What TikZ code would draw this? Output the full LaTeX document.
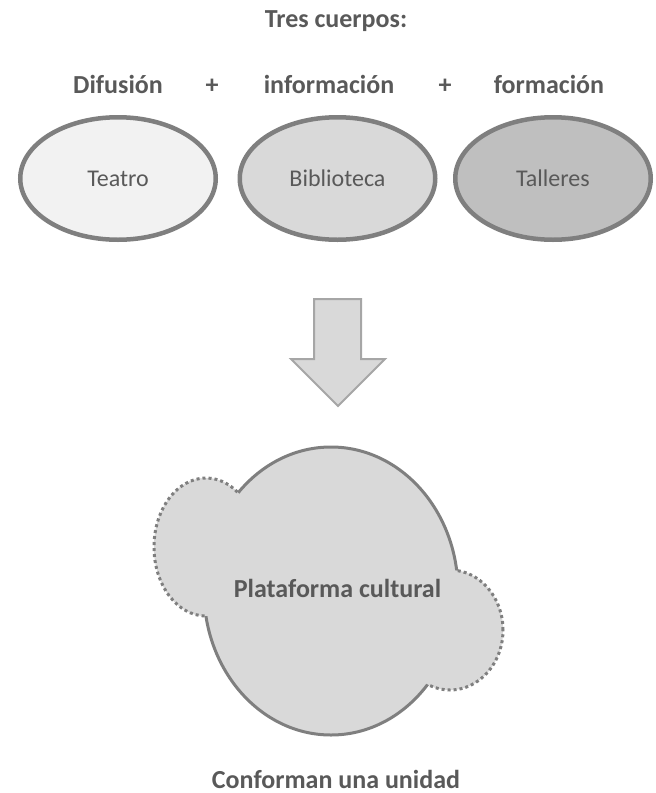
\documentclass[tikz,border=0pt]{standalone}
\usepackage{fontspec}
\setmainfont{Carlito}
\usetikzlibrary{shapes.geometric}
\definecolor{txt}{HTML}{595959}
\definecolor{edge}{HTML}{7F7F7F}
\definecolor{fillA}{HTML}{F2F2F2}
\definecolor{fillB}{HTML}{D9D9D9}
\definecolor{fillC}{HTML}{BFBFBF}
\definecolor{arrowedge}{HTML}{A6A6A6}
\tikzset{
  headtxt/.style={font=\bfseries\fontsize{26}{30}\selectfont, text=txt, inner sep=0pt, anchor=base},
  oval/.style={ellipse, draw=edge, line width=4.5pt, minimum width=195.5pt, minimum height=122.5pt, inner sep=0pt, font=\fontsize{24}{28}\selectfont, text=txt},
  dotline/.style={draw=edge, line width=3pt, dash pattern=on 3pt off 3pt},
}
\begin{document}
\begin{tikzpicture}[x=1pt,y=-1pt]
\useasboundingbox (0,0) rectangle (656,793);
% titles
\node[headtxt] (title) at (336,27) {Tres cuerpos:};
\node[headtxt] (dif) at (118,93) {Difusión};
\node[headtxt] (p1) at (212,93) {+};
\node[headtxt] (inf) at (329,93) {información};
\node[headtxt] (p2) at (445,93) {+};
\node[headtxt] (form) at (549,93) {formación};
% ovals
\node[oval, fill=fillA] (teatro) at (118,178.5) {Teatro};
\node[oval, fill=fillB] (biblio) at (337.5,178.5) {Biblioteca};
\node[oval, fill=fillC] (talleres) at (553,178.5) {Talleres};
% block arrow
\draw[fill=fillB, draw=arrowedge, line width=2pt, line join=miter]
  (314,299) -- (361,299) -- (361,359) -- (385,359) -- (338,406) -- (291,359) -- (314,359) -- cycle;
% cloud
\coordinate (mainc) at (331,591);
\coordinate (leftc) at (206,547);
\coordinate (rightc) at (450,630);
\fill[fillB] (mainc) ellipse [x radius=127pt, y radius=144pt];
\fill[fillB] (leftc) ellipse [x radius=52pt, y radius=69pt];
\fill[fillB] (rightc) ellipse [x radius=53pt, y radius=60pt];
\draw[edge, line width=3pt] (mainc) ellipse [x radius=127pt, y radius=144pt];
\fill[fillB] (leftc) ellipse [x radius=52pt, y radius=69pt];
\fill[fillB] (rightc) ellipse [x radius=53pt, y radius=60pt];
\begin{scope}[even odd rule]
  \clip (0,0) rectangle (656,793) (mainc) ellipse [x radius=127pt, y radius=144pt];
  \draw[dotline] (leftc) ellipse [x radius=52pt, y radius=69pt];
  \draw[dotline] (rightc) ellipse [x radius=53pt, y radius=60pt];
\end{scope}
\node[headtxt] (plat) at (337.5,597) {Plataforma cultural};
\node[headtxt] (unidad) at (336,788) {Conforman una unidad};
\end{tikzpicture}
\end{document}
